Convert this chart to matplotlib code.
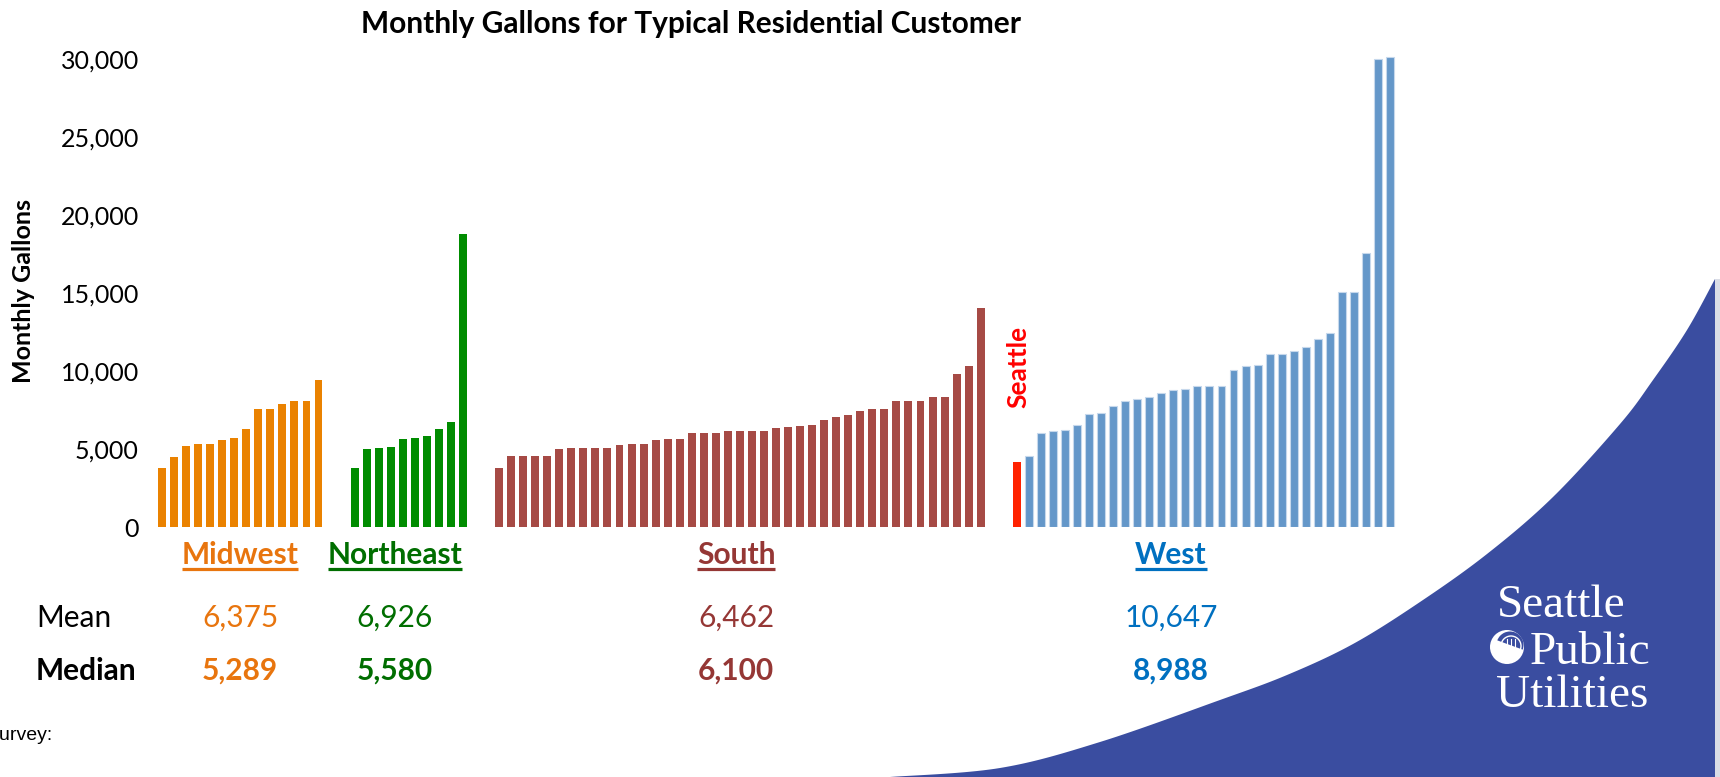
import numpy as np
import matplotlib
matplotlib.use("Agg")
from matplotlib import pyplot as plt
from matplotlib.patches import Polygon, Circle, Wedge, Rectangle
from matplotlib.ticker import FuncFormatter

plt.rcParams['font.family'] = ['Lato', 'DejaVu Sans']

# monthly gallons per utility, sorted within each region
midwest = [3810, 4510, 5220, 5350, 5350, 5600, 5730, 6310, 7590, 7590, 7910, 8100, 8100, 9440]
northeast = [3810, 5030, 5090, 5150, 5670, 5730, 5860, 6310, 6750, 18820]
south = [3810, 4580, 4580, 4580, 4580, 5030, 5090, 5090, 5090, 5090, 5280, 5350, 5350,
         5600, 5670, 5670, 6050, 6050, 6050, 6180, 6180, 6180, 6180, 6370, 6430, 6500,
         6560, 6880, 7070, 7200, 7460, 7590, 7590, 8100, 8100, 8100, 8360, 8360, 9830,
         10340, 14050]
seattle = 4190
west = [4580, 6070, 6180, 6260, 6580, 7270, 7330, 7780, 8080, 8250, 8360, 8590, 8780,
        8850, 9060, 9060, 9060, 10080, 10340, 10400, 11090, 11090, 11300, 11580, 12070,
        12470, 15060, 15060, 17590, 29990, 30120]

regions = ['Midwest', 'Northeast', 'South', 'West']
means = [6375, 6926, 6462, 10647]
medians = [5289, 5580, 6100, 8988]

bar_colors = ['#EA8200', '#008C00', '#A64A45', '#6497C9']
text_colors = ['#E8750E', '#006E00', '#953735', '#0070C0']
seattle_color = '#FF2200'
spu_blue = '#3A4DA0'


def catmull_rom(points, steps=20):
    # smooth curve through a list of (x, y) points
    p = np.array(points, float)
    p = np.vstack([p[0], p, p[-1]])
    out = []
    for i in range(1, len(p) - 2):
        p0, p1, p2, p3 = p[i - 1], p[i], p[i + 1], p[i + 2]
        for t in np.linspace(0, 1, steps, endpoint=False):
            t2, t3 = t * t, t * t * t
            out.append(0.5 * ((2 * p1) + (-p0 + p2) * t +
                              (2 * p0 - 5 * p1 + 4 * p2 - p3) * t2 +
                              (-p0 + 3 * p1 - 3 * p2 + p3) * t3))
    out.append(p[-2])
    return np.array(out)


W, H = 1720, 777
fig = plt.figure(figsize=(W / 100, H / 100), dpi=100)

# background layer in pixel units (y down) for the swoosh, logo and free text
bg = fig.add_axes([0, 0, 1, 1], zorder=0)
bg.set_xlim(0, W)
bg.set_ylim(H, 0)
bg.axis('off')

# blue swoosh in the lower right corner
edge = [(890, 777), (1000, 768), (1100, 742), (1220, 700), (1287, 675), (1353, 644),
        (1420, 602), (1487, 554), (1553, 497), (1620, 424), (1653, 380), (1687, 330),
        (1715, 279)]
curve = catmull_rom(edge)
pts = [tuple(c) for c in curve] + [(1715, 777)]
bg.add_patch(Polygon(pts, closed=True, facecolor=spu_blue, edgecolor='none'))
bg.add_patch(Rectangle((1715, 279), 5, 498, facecolor='#DADDE6', edgecolor='none'))

# logo
serif = ['Liberation Serif', 'DejaVu Serif']
bg.text(1497, 617, 'Seattle', family=serif, fontsize=34, color='white', va='baseline')
bg.text(1530, 664, 'Public', family=serif, fontsize=34, color='white', va='baseline')
bg.text(1496, 707, 'Utilities', family=serif, fontsize=34, color='white', va='baseline')
bg.add_patch(Circle((1507, 647), 17, facecolor='white', edgecolor='none'))
bg.add_patch(Wedge((1510, 645), 13.5, 200, 20, facecolor=spu_blue, edgecolor='none'))
bg.add_patch(Circle((1511, 646), 10, facecolor='none', edgecolor='white', lw=1))
for dx in (-4, 0, 4):
    bg.plot([1511 + dx, 1511 + dx], [639, 654], color='white', lw=0.8)

# main bar chart
ax = fig.add_axes([0.08719, 0.32111, 0.72797, 0.6131], zorder=2)
ax.patch.set_alpha(0)

groups = [midwest, northeast, south, [seattle] + west]
start = 0
for i, vals in enumerate(groups):
    pos = start + np.arange(len(vals))
    if i < 3:
        ax.bar(pos, vals, width=0.66, color=bar_colors[i], edgecolor='none')
    else:
        ax.bar(pos[:1], vals[:1], width=0.66, color=seattle_color, edgecolor='none')
        ax.bar(pos[1:], vals[1:], width=0.66, color=bar_colors[i],
               edgecolor='#C6D8EC', linewidth=0.8)
    start += len(vals) + 2

ax.set_xlim(-1, 103)
ax.set_ylim(0, 30500)
ax.set_yticks(np.arange(0, 30001, 5000))
ax.yaxis.set_major_formatter(FuncFormatter(lambda v, p: f"{v:,.0f}"))
ax.tick_params(axis='y', length=0, pad=8, labelsize=18)
ax.set_xticks([])
for s in ax.spines.values():
    s.set_visible(False)

bg.text(691, 24, 'Monthly Gallons for Typical Residential Customer', fontsize=21.5,
        fontweight='bold', ha='center', va='center')
bg.text(24, 291, 'Monthly Gallons', fontsize=18, fontweight='bold', rotation=90,
        ha='center', va='center')
bg.text(1018, 367, 'Seattle', fontsize=19, fontweight='bold', rotation=90,
        color='#FF0000', ha='center', va='center')

# region names, mean and median rows
label_x = [240, 395, 736, 1171]
names = []
for i, r in enumerate(regions):
    t = bg.text(label_x[i], 564, r, fontsize=21.5, fontweight='bold', color=text_colors[i],
                ha='center', va='baseline')
    names.append(t)
    bg.text(label_x[i], 627, f"{means[i]:,}", fontsize=21.5, color=text_colors[i],
            ha='center', va='baseline')
    bg.text(label_x[i], 680, f"{medians[i]:,}", fontsize=21.5, fontweight='bold',
            color=text_colors[i], ha='center', va='baseline')

bg.text(36, 627, 'Mean', fontsize=21.5, ha='left', va='baseline')
bg.text(36, 680, 'Median', fontsize=21.5, fontweight='bold', ha='left', va='baseline')
bg.text(52, 740, 'Survey:', family=['Liberation Sans', 'DejaVu Sans'], fontsize=14,
        ha='right', va='baseline')

# underline the region names
fig.canvas.draw()
rend = fig.canvas.get_renderer()
for i, t in enumerate(names):
    bb = t.get_window_extent(renderer=rend)
    bg.plot([bb.x0, bb.x1], [569, 569], color=text_colors[i], lw=2.3,
            solid_capstyle='butt')

fig.savefig('out.png', dpi=100)
